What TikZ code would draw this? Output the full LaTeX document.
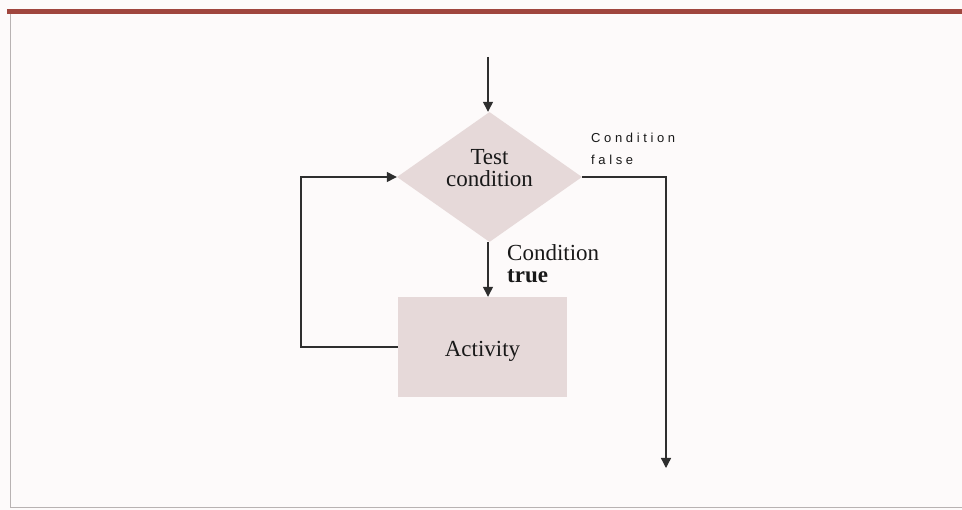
\documentclass[tikz,border=0pt]{standalone}
\usepackage{fontspec}
\setmainfont{Liberation Serif}
\newfontfamily\lblsans[LetterSpace=28]{Liberation Sans}
\usetikzlibrary{shapes.geometric,arrows.meta}
\definecolor{bgcol}{HTML}{FDFAFA}
\definecolor{barred}{HTML}{A0463E}
\definecolor{framegray}{HTML}{B8B2B2}
\definecolor{shapefill}{HTML}{E6D9D9}
\definecolor{linecol}{HTML}{2E2E2E}
\tikzset{
  conn/.style={draw=linecol, line width=1.3pt, -{Triangle[length=10pt,width=10pt]}},
  bigtext/.style={font=\fontsize{23}{22}\selectfont, text=black!90},
  smalltext/.style={font=\lblsans\fontsize{13}{22}\selectfont, text=black!90},
  decision/.style={diamond, fill=shapefill, draw=none, minimum width=185pt, minimum height=130pt, inner sep=0pt},
  process/.style={rectangle, fill=shapefill, draw=none, minimum width=169pt, minimum height=100pt, inner sep=0pt}
}
\begin{document}
\begin{tikzpicture}[x=1pt,y=-1pt]
  \fill[bgcol] (0,0) rectangle (962,510);
  \useasboundingbox (0,0) rectangle (962,510);
  % header bar and frame
  \fill[barred] (7,9.5) rectangle (962,14.5);
  \draw[framegray, line width=0.8pt] (10,14.5) -- (10,507) -- (962,507);

  % nodes
  \node[decision] (d) at (489.5,177) {};
  \node[bigtext, anchor=base, inner sep=0pt, align=center] (dt) at (489.5,187) {Test\\condition};
  \node[process] (a) at (482.5,347) {};
  \node[bigtext, anchor=base, inner sep=0pt] (at) at (482.5,357) {Activity};
  \coordinate (start) at (488,57);
  \coordinate (fend) at (666,468);
  \coordinate (lp) at (301,347);

  % connectors
  \draw[conn] (start) -- (start |- d.north);
  \draw[conn] (d.south -| start) -- (start |- a.north);
  \draw[conn] (d.east) -| (fend);
  \draw[conn] (a.west) -- (lp) |- (d.west);

  % labels
  \node[bigtext, anchor=base west, inner sep=0pt, align=left] (tl) at (507,283) {Condition\\\textbf{true}};
  \node[smalltext, anchor=base west, inner sep=0pt, align=left] (fl) at (591,165) {Condition\\false};
\end{tikzpicture}
\end{document}
